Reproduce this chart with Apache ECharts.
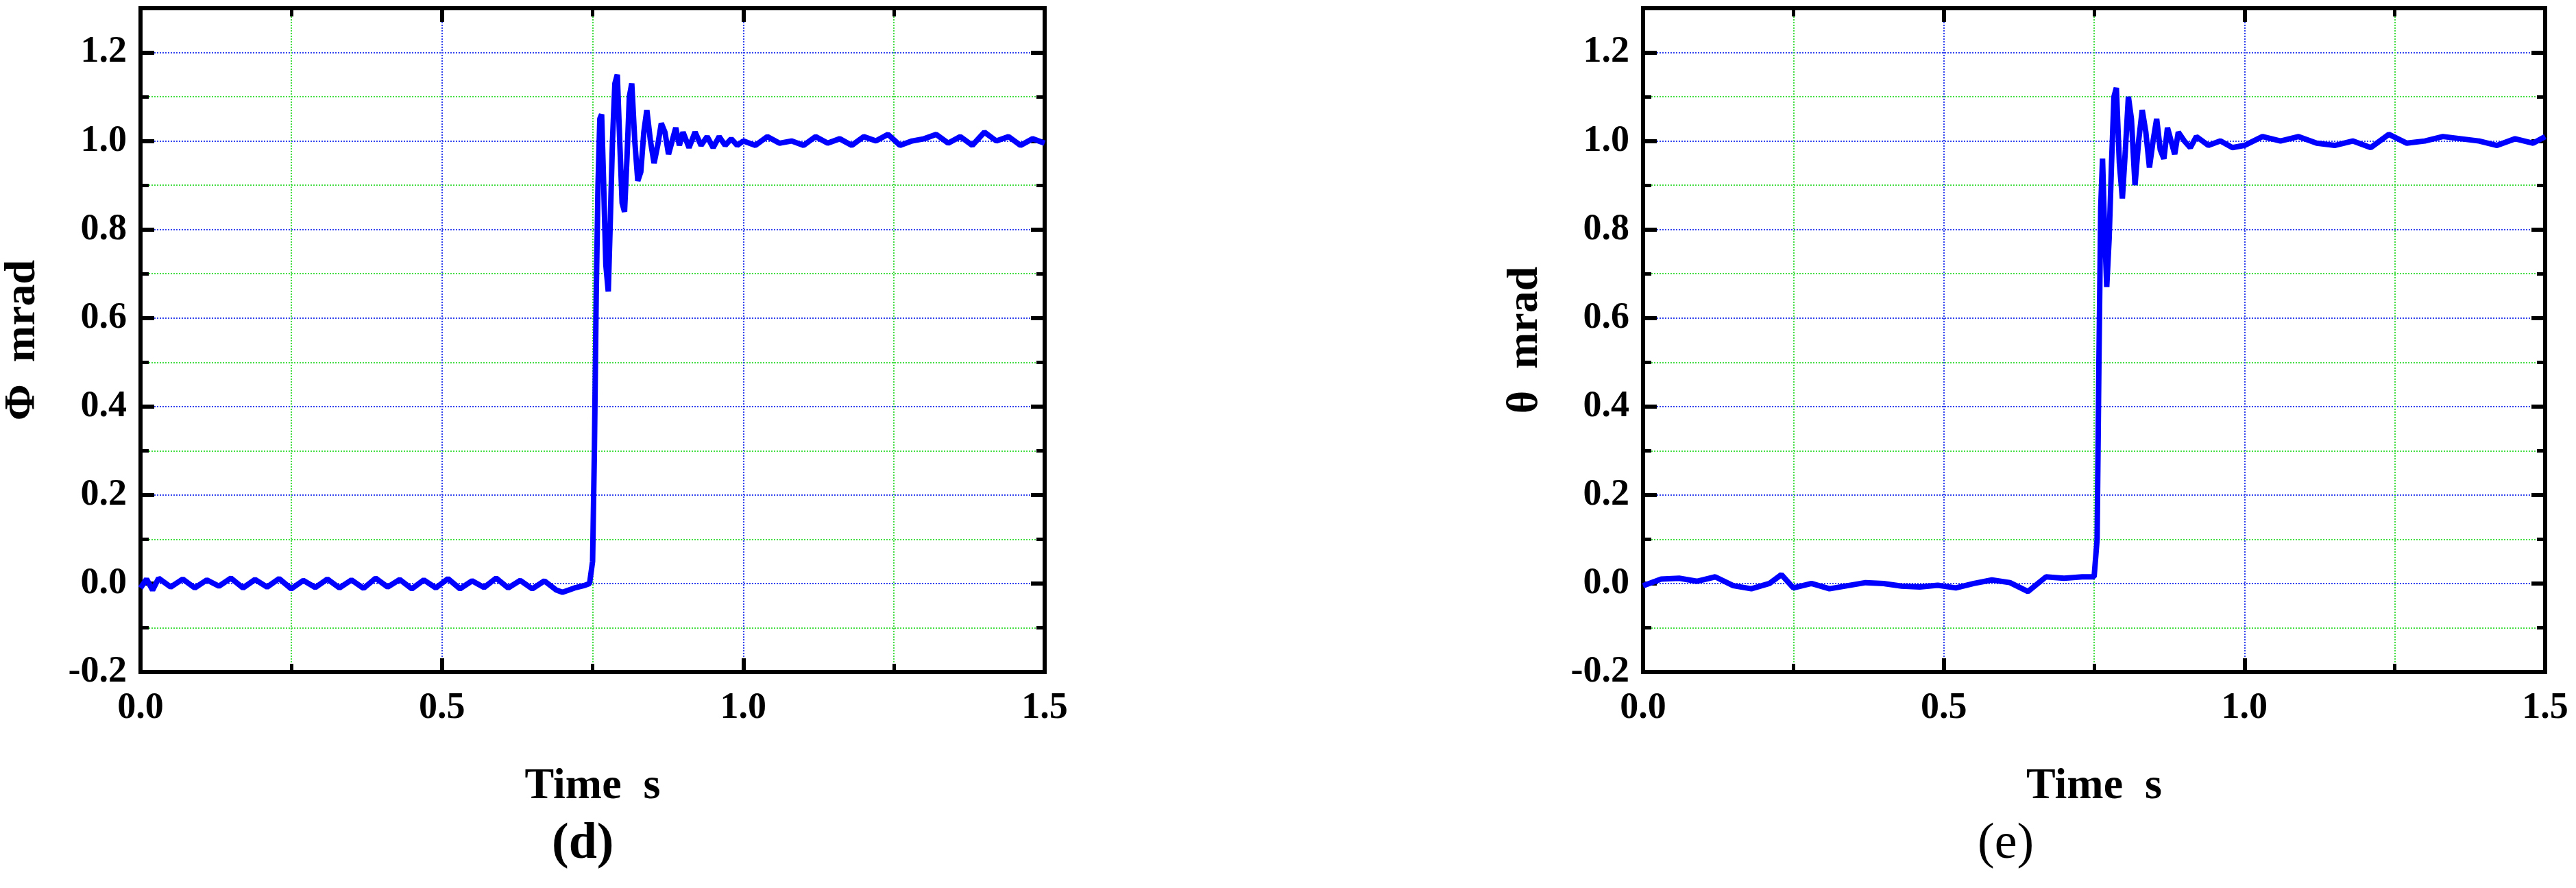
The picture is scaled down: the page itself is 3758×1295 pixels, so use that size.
<!DOCTYPE html>
<html><head><meta charset="utf-8">
<script src="https://cdn.jsdelivr.net/npm/echarts@6/dist/echarts.min.js"></script>
<style>html,body{margin:0;background:#fff}#c{width:3758px;height:1295px}</style>
</head><body><div id="c"></div>
<script>
// (d) Φ response
var tD = [0,0.01,0.02,0.03,0.05,0.07,0.09,0.11,0.13,0.15,0.17,0.19,0.21,0.23,0.25,0.27,0.29,0.31,0.33,0.35,0.37,0.39,0.41,0.43,0.45,0.47,0.49,0.51,0.53,0.55,0.57,0.59,0.61,0.63,0.65,0.67,0.69,0.7,0.72,0.735,0.745,0.75,0.753,0.756,0.759,0.762,0.765,0.768,0.772,0.776,0.779,0.783,0.787,0.791,0.795,0.799,0.803,0.807,0.811,0.815,0.82,0.825,0.83,0.835,0.84,0.846,0.852,0.858,0.864,0.87,0.876,0.882,0.888,0.894,0.9,0.91,0.92,0.93,0.94,0.95,0.96,0.97,0.98,0.99,1.0,1.02,1.04,1.06,1.08,1.1,1.12,1.14,1.16,1.18,1.2,1.22,1.24,1.26,1.28,1.3,1.32,1.34,1.36,1.38,1.4,1.42,1.44,1.46,1.48,1.5];
var yD = [-0.01,0.01,-0.015,0.012,-0.008,0.01,-0.01,0.008,-0.006,0.012,-0.01,0.009,-0.008,0.011,-0.012,0.007,-0.009,0.01,-0.01,0.008,-0.011,0.012,-0.008,0.009,-0.012,0.008,-0.01,0.011,-0.012,0.006,-0.009,0.012,-0.01,0.007,-0.012,0.006,-0.015,-0.02,-0.01,-0.005,0.0,0.05,0.3,0.65,0.9,1.05,1.06,0.92,0.72,0.66,0.8,1.0,1.13,1.15,1.0,0.86,0.84,0.96,1.1,1.13,1.0,0.91,0.93,1.02,1.07,1.0,0.95,0.99,1.04,1.02,0.97,1.0,1.03,0.99,1.02,0.985,1.02,0.99,1.01,0.985,1.01,0.99,1.005,0.99,1.0,0.99,1.01,0.995,1.0,0.99,1.01,0.995,1.005,0.99,1.01,1.0,1.015,0.99,1.0,1.005,1.015,0.995,1.01,0.99,1.02,1.0,1.01,0.99,1.005,0.995];
// (e) θ response
var tE = [0,0.03,0.06,0.09,0.12,0.15,0.18,0.21,0.23,0.25,0.28,0.31,0.34,0.37,0.4,0.43,0.46,0.49,0.52,0.55,0.58,0.61,0.64,0.67,0.7,0.73,0.75,0.755,0.758,0.761,0.764,0.767,0.771,0.775,0.779,0.783,0.787,0.792,0.797,0.802,0.807,0.812,0.818,0.824,0.83,0.836,0.842,0.848,0.854,0.86,0.866,0.872,0.878,0.884,0.89,0.9,0.91,0.92,0.94,0.96,0.98,1.0,1.03,1.06,1.09,1.12,1.15,1.18,1.21,1.24,1.27,1.3,1.33,1.36,1.39,1.42,1.45,1.48,1.5];
var yE = [-0.005,0.01,0.012,0.005,0.015,-0.005,-0.012,0.0,0.02,-0.01,0.0,-0.012,-0.005,0.002,0.0,-0.006,-0.008,-0.004,-0.01,0.0,0.008,0.002,-0.018,0.015,0.012,0.015,0.015,0.1,0.5,0.85,0.96,0.82,0.67,0.78,0.95,1.1,1.12,0.95,0.87,0.98,1.1,1.05,0.9,1.0,1.07,1.02,0.94,1.0,1.05,0.98,0.96,1.03,1.0,0.97,1.02,1.0,0.985,1.01,0.99,1.0,0.985,0.99,1.01,1.0,1.01,0.995,0.99,1.0,0.985,1.015,0.995,1.0,1.01,1.005,1.0,0.99,1.005,0.995,1.01];
var xTicks = [0, 1.5];
var yTicks = [-0.2, 1.3];

function pairs(t, y){ return t.map(function(v,i){ return [v, y[i]]; }); }

var font = '"Liberation Serif", "DejaVu Serif", serif';
var grids = [
  {left:199, top:12, width:1325, height:968, show:true, borderColor:'#000', borderWidth:6},
  {left:2397, top:12, width:1316, height:968, show:true, borderColor:'#000', borderWidth:6}
];
var xAxis = [], yAxis = [];
[0,1].forEach(function(g){
  xAxis.push({type:'value', gridIndex:g, min:xTicks[0], max:xTicks[1], interval:0.5,
    name:'Time  s', nameLocation:'middle', nameGap:135,
    nameTextStyle:{fontFamily:font, fontWeight:'bold', fontSize:64, color:'#000'},
    axisLine:{onZero:false, lineStyle:{color:'#000', width:6}},
    axisTick:{inside:true, length:20, lineStyle:{color:'#000', width:6}},
    minorTick:{show:true, splitNumber:2, length:12, lineStyle:{color:'#000', width:5}},
    axisLabel:{fontFamily:font, fontWeight:'bold', fontSize:54, color:'#000', margin:26,
      formatter:function(v){return v.toFixed(1);}},
    splitLine:{show:true, lineStyle:{color:'#3344ee', type:'dotted', width:2}},
    minorSplitLine:{show:true, lineStyle:{color:'#44dd44', type:'dotted', width:2}}});
  xAxis.push({type:'value', gridIndex:g, position:'top', min:xTicks[0], max:xTicks[1], interval:0.5,
    axisLine:{onZero:false, lineStyle:{color:'#000', width:6}}, axisLabel:{show:false},
    axisTick:{inside:true, length:20, lineStyle:{color:'#000', width:6}},
    minorTick:{show:true, splitNumber:2, length:12, lineStyle:{color:'#000', width:5}},
    splitLine:{show:false}});
  yAxis.push({type:'value', gridIndex:g, min:yTicks[0], max:yTicks[1], interval:0.2,
    name: g === 0 ? 'Φ  mrad' : 'θ  mrad', nameLocation:'middle', nameGap:140,
    nameTextStyle:{fontFamily:font, fontWeight:'bold', fontSize:64, color:'#000'},
    axisLine:{onZero:false, lineStyle:{color:'#000', width:6}},
    axisTick:{inside:true, length:20, lineStyle:{color:'#000', width:6}},
    minorTick:{show:true, splitNumber:2, length:12, lineStyle:{color:'#000', width:5}},
    axisLabel:{fontFamily:font, fontWeight:'bold', fontSize:54, color:'#000', margin:20,
      formatter:function(v){return v > 1.25 ? '' : v.toFixed(1);}},
    splitLine:{show:true, lineStyle:{color:'#3344ee', type:'dotted', width:2}},
    minorSplitLine:{show:true, lineStyle:{color:'#44dd44', type:'dotted', width:2}}});
  yAxis.push({type:'value', gridIndex:g, position:'right', min:yTicks[0], max:yTicks[1], interval:0.2,
    axisLine:{show:true, onZero:false, lineStyle:{color:'#000', width:6}}, axisLabel:{show:false},
    axisTick:{inside:true, length:20, lineStyle:{color:'#000', width:6}},
    minorTick:{show:true, splitNumber:2, length:12, lineStyle:{color:'#000', width:5}},
    splitLine:{show:false}});
});

var chart = echarts.init(document.getElementById('c'));
chart.setOption({
  animation:false,
  backgroundColor:'#fff',
  grid:grids, xAxis:xAxis, yAxis:yAxis,
  series:[
    {type:'line', xAxisIndex:0, yAxisIndex:0, data:pairs(tD,yD), symbol:'none', lineStyle:{color:'#0000ff', width:8}},
    {type:'line', xAxisIndex:2, yAxisIndex:2, data:pairs(tE,yE), symbol:'none', lineStyle:{color:'#0000ff', width:8}}
  ],
  graphic:[
    {type:'text', left:805, top:1195, style:{text:'(d)', font:'bold 74px '+font, fill:'#000'}},
    {type:'text', left:2885, top:1195, style:{text:'(e)', font:'74px '+font, fill:'#000'}}
  ]
});
</script></body></html>
